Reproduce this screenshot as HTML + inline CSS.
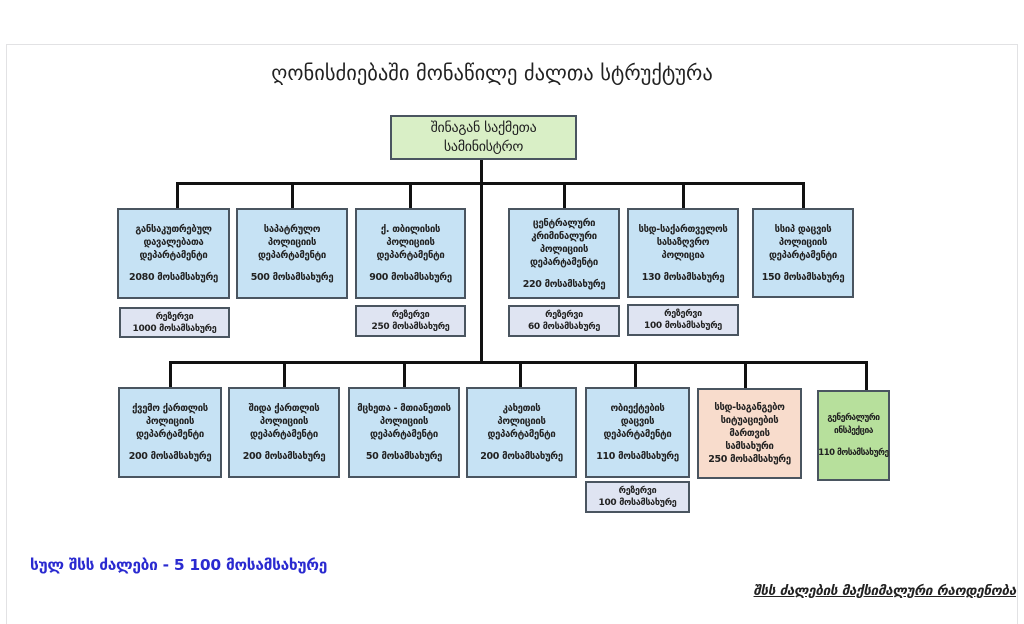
<!DOCTYPE html>
<html><head><meta charset="utf-8"><style>
*{margin:0;padding:0;box-sizing:border-box}
body{width:1024px;height:606px;background:#fff;position:relative;overflow:hidden;font-family:"DejaVu Sans","Liberation Sans",sans-serif}
.frame{position:absolute;left:6px;top:44px;width:1012px;height:580px;border:1.5px solid #e2e2e4;border-bottom:none}
.b{position:absolute;border:2px solid #4a5560;background:#c6e2f4;display:flex;flex-direction:column;justify-content:center;align-items:center;text-align:center;font-size:9.5px;font-weight:bold;line-height:13px;color:#222;letter-spacing:-0.3px;white-space:nowrap}
.b .n{margin-top:9px}
.s{background:#dfe4f2;font-size:9px;line-height:12px}
.l{position:absolute;background:#111}
</style></head><body>
<div class="frame"></div>
<div style="position:absolute;left:0;width:984px;top:61px;text-align:center;font-size:20.5px;color:#222">ღონისძიებაში მონაწილე ძალთა სტრუქტურა</div>
<div class="b" style="left:390px;top:115px;width:187px;height:45px;background:#d9efc6;font-size:14px;line-height:19px;font-weight:normal">შინაგან საქმეთა<br>სამინისტრო</div>
<div class="l" style="left:480px;top:160px;width:3px;height:203px"></div>
<div class="l" style="left:176px;top:182px;width:629px;height:3px"></div>
<div class="l" style="left:176px;top:182px;width:3px;height:27px"></div>
<div class="l" style="left:291px;top:182px;width:3px;height:27px"></div>
<div class="l" style="left:409px;top:182px;width:3px;height:27px"></div>
<div class="l" style="left:563px;top:182px;width:3px;height:27px"></div>
<div class="l" style="left:682px;top:182px;width:3px;height:27px"></div>
<div class="l" style="left:802px;top:182px;width:3px;height:27px"></div>

<div class="b" style="left:117px;top:208px;width:113px;height:91px">განსაკუთრებულ<br>დავალებათა<br>დეპარტამენტი<div class="n">2080 მოსამსახურე</div></div>
<div class="b s" style="left:119px;top:307px;width:111px;height:31px">რეზერვი<br>1000 მოსამსახურე</div>
<div class="b" style="left:236px;top:208px;width:112px;height:91px">საპატრულო<br>პოლიციის<br>დეპარტამენტი<div class="n">500 მოსამსახურე</div></div>
<div class="b" style="left:355px;top:208px;width:111px;height:91px">ქ. თბილისის<br>პოლიციის<br>დეპარტამენტი<div class="n">900 მოსამსახურე</div></div>
<div class="b s" style="left:355px;top:305px;width:111px;height:32px">რეზერვი<br>250 მოსამსახურე</div>
<div class="b" style="left:508px;top:208px;width:112px;height:91px">ცენტრალური<br>კრიმინალური<br>პოლიციის<br>დეპარტამენტი<div class="n">220 მოსამსახურე</div></div>
<div class="b s" style="left:508px;top:305px;width:112px;height:32px">რეზერვი<br>60 მოსამსახურე</div>
<div class="b" style="left:627px;top:208px;width:112px;height:90px">სსდ-საქართველოს<br>სასაზღვრო<br>პოლიცია<div class="n">130 მოსამსახურე</div></div>
<div class="b s" style="left:627px;top:304px;width:112px;height:32px">რეზერვი<br>100 მოსამსახურე</div>
<div class="b" style="left:752px;top:208px;width:102px;height:90px">სსიპ დაცვის<br>პოლიციის<br>დეპარტამენტი<div class="n">150 მოსამსახურე</div></div>

<div class="l" style="left:169px;top:361px;width:699px;height:3px"></div>
<div class="l" style="left:169px;top:361px;width:3px;height:27px"></div>
<div class="l" style="left:283px;top:361px;width:3px;height:27px"></div>
<div class="l" style="left:403px;top:361px;width:3px;height:27px"></div>
<div class="l" style="left:519px;top:361px;width:3px;height:27px"></div>
<div class="l" style="left:634px;top:361px;width:3px;height:27px"></div>
<div class="l" style="left:744px;top:361px;width:3px;height:28px"></div>
<div class="l" style="left:865px;top:361px;width:3px;height:30px"></div>

<div class="b" style="left:118px;top:387px;width:104px;height:91px">ქვემო ქართლის<br>პოლიციის<br>დეპარტამენტი<div class="n">200 მოსამსახურე</div></div>
<div class="b" style="left:228px;top:387px;width:112px;height:91px">შიდა ქართლის<br>პოლიციის<br>დეპარტამენტი<div class="n">200 მოსამსახურე</div></div>
<div class="b" style="left:348px;top:387px;width:112px;height:91px">მცხეთა - მთიანეთის<br>პოლიციის<br>დეპარტამენტი<div class="n">50 მოსამსახურე</div></div>
<div class="b" style="left:466px;top:387px;width:111px;height:91px">კახეთის<br>პოლიციის<br>დეპარტამენტი<div class="n">200 მოსამსახურე</div></div>
<div class="b" style="left:585px;top:387px;width:105px;height:91px">ობიექტების<br>დაცვის<br>დეპარტამენტი<div class="n">110 მოსამსახურე</div></div>
<div class="b s" style="left:585px;top:481px;width:105px;height:32px">რეზერვი<br>100 მოსამსახურე</div>
<div class="b" style="left:697px;top:388px;width:105px;height:91px;background:#f8dccc">სსდ-საგანგებო<br>სიტუაციების<br>მართვის<br>სამსახური<br>250 მოსამსახურე</div>
<div class="b" style="left:817px;top:390px;width:73px;height:91px;background:#b7e09c;font-size:8.5px;letter-spacing:-0.5px">გენერალური<br>ინსპექცია<div class="n">110 მოსამსახურე</div></div>

<div style="position:absolute;left:30px;top:556px;font-size:15.5px;font-weight:bold;color:#2a2ad0;letter-spacing:-0.3px">სულ შსს ძალები - 5 100  მოსამსახურე</div>
<div style="position:absolute;right:8px;top:583px;font-size:13.5px;font-weight:bold;font-style:italic;text-decoration:underline;color:#222;letter-spacing:-0.3px">შსს ძალების მაქსიმალური რაოდენობა</div>
</body></html>
